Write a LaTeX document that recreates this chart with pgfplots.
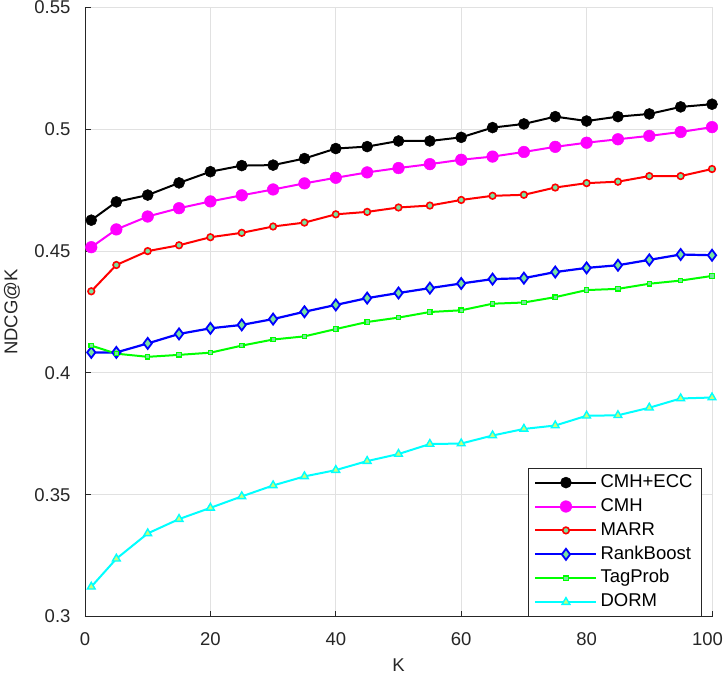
\documentclass[border=0pt]{standalone}
\usepackage{fontspec}
\setmainfont{Liberation Sans}
\usepackage{pgfplots}
\usepackage{pgfplotstable}
\pgfplotsset{compat=1.18}

\definecolor{axgray}{RGB}{38,38,38}
\definecolor{gridgray}{RGB}{225,225,225}
\definecolor{mfill}{RGB}{120,228,160}
\definecolor{tfill}{RGB}{200,255,120}
\definecolor{pmagenta}{RGB}{255,0,255}
\definecolor{pcyan}{RGB}{0,255,255}
\definecolor{pgreen}{RGB}{0,255,0}
\definecolor{pblue}{RGB}{0,0,255}
\definecolor{pred}{RGB}{255,0,0}

% NDCG@K for each method
\pgfplotstableread{
K    cmhecc  cmh     marr    rankboost tagprob dorm
1    0.4627  0.4516  0.4335  0.4084  0.4112  0.3122
5    0.4702  0.4589  0.4443  0.4084  0.4079  0.3237
10   0.4730  0.4642  0.4500  0.4121  0.4066  0.3341
15   0.4780  0.4676  0.4524  0.4160  0.4074  0.3400
20   0.4826  0.4704  0.4557  0.4183  0.4083  0.3446
25   0.4851  0.4729  0.4575  0.4197  0.4112  0.3493
30   0.4853  0.4753  0.4601  0.4221  0.4137  0.3538
35   0.4880  0.4778  0.4617  0.4251  0.4150  0.3575
40   0.4921  0.4801  0.4651  0.4279  0.4180  0.3601
45   0.4929  0.4823  0.4661  0.4307  0.4209  0.3638
50   0.4952  0.4841  0.4679  0.4328  0.4227  0.3667
55   0.4952  0.4857  0.4687  0.4348  0.4250  0.3708
60   0.4967  0.4875  0.4710  0.4367  0.4257  0.3710
65   0.5007  0.4888  0.4727  0.4385  0.4284  0.3743
70   0.5022  0.4907  0.4731  0.4389  0.4289  0.3770
75   0.5052  0.4928  0.4761  0.4414  0.4311  0.3784
80   0.5034  0.4945  0.4779  0.4431  0.4340  0.3824
85   0.5052  0.4959  0.4785  0.4442  0.4345  0.3826
90   0.5063  0.4973  0.4808  0.4464  0.4366  0.3857
95   0.5092  0.4989  0.4808  0.4486  0.4379  0.3895
100  0.5103  0.5009  0.4837  0.4483  0.4398  0.3899
}\ndcg

\newcommand{\lentry}[1]{#1\hspace{9pt}}

\begin{document}
\begin{tikzpicture}
\begin{axis}[
  at={(0,0)}, anchor=south west,
  scale only axis,
  width=627pt, height=609pt,
  xmin=0, xmax=100, ymin=0.3, ymax=0.55,
  xtick={0,20,...,100},
  xticklabels={0,20,40,60,80,{\hspace*{-9pt}100}},
  ytick={0.3,0.35,0.4,0.45,0.5,0.55},
  yticklabels={0.3,0.35,0.4,0.45,0.5,0.55},
  axis lines*=left,
  axis line style={axgray, line width=0.9pt},
  tick align=inside,
  major tick length=6pt,
  tick style={axgray, line width=0.9pt},
  grid=major,
  major grid style={gridgray, line width=0.9pt},
  clip=false,
  font=\fontsize{18.5}{22}\selectfont,
  /pgf/number format/assume math mode=true,
  ticklabel style={text=axgray},
  yticklabel style={xshift=-11pt},
  xticklabel style={yshift=-13pt},
  xlabel={K}, ylabel={NDCG@K},
  every axis x label/.style={at={(axis description cs:0.5,0)}, anchor=center, yshift=-48.5pt, text=axgray},
  every axis y label/.style={at={(axis description cs:0,0.5)}, anchor=center, rotate=90, yshift=73pt, text=axgray},
  legend cell align=left,
  legend image code/.code={\draw[mark repeat=2,mark phase=2,#1] plot coordinates {(0pt,0pt) (30.5pt,0pt) (61pt,0pt)};},
  legend style={at={(1,0)}, anchor=south east, xshift=-10pt, draw=axgray, line width=0.9pt, fill=white,
    inner ysep=2pt, inner xsep=6pt, font=\fontsize{18.5}{22}\selectfont,
    nodes={text height=13.5pt, text depth=4pt, inner ysep=3.2pt, inner xsep=3pt}},
]
\addplot[black, line width=2pt, mark=*, mark size=5.5pt, mark options={solid, fill=black, line width=0.5pt}]
  table[x=K, y=cmhecc] {\ndcg};
\addlegendentry{\lentry{CMH+ECC}}
\addplot[pmagenta, line width=2pt, mark=*, mark size=5.8pt, mark options={solid, fill=pmagenta, line width=0.5pt}]
  table[x=K, y=cmh] {\ndcg};
\addlegendentry{\lentry{CMH}}
\addplot[pred, line width=2pt, mark=*, mark size=3.3pt, mark options={solid, fill=mfill, draw=pred, line width=1.6pt}]
  table[x=K, y=marr] {\ndcg};
\addlegendentry{\lentry{MARR}}
\addplot[pblue, line width=2.2pt, mark=diamond*, mark size=5.5pt, mark options={solid, fill=mfill, draw=pblue, line width=1.8pt}]
  table[x=K, y=rankboost] {\ndcg};
\addlegendentry{\lentry{RankBoost}}
\addplot[pgreen, line width=2pt, mark=square*, mark size=2.2pt, mark options={solid, fill=mfill, draw=pgreen, line width=1.2pt}]
  table[x=K, y=tagprob] {\ndcg};
\addlegendentry{\lentry{TagProb}}
\addplot[pcyan, line width=2pt, mark=triangle*, mark size=4.5pt, mark options={solid, fill=tfill, draw=pcyan, line width=1.4pt}]
  table[x=K, y=dorm] {\ndcg};
\addlegendentry{\lentry{DORM}}
\end{axis}
\pgfresetboundingbox
\path (-85pt,-61.5pt) rectangle (640pt,616.5pt);
\end{tikzpicture}
\end{document}
